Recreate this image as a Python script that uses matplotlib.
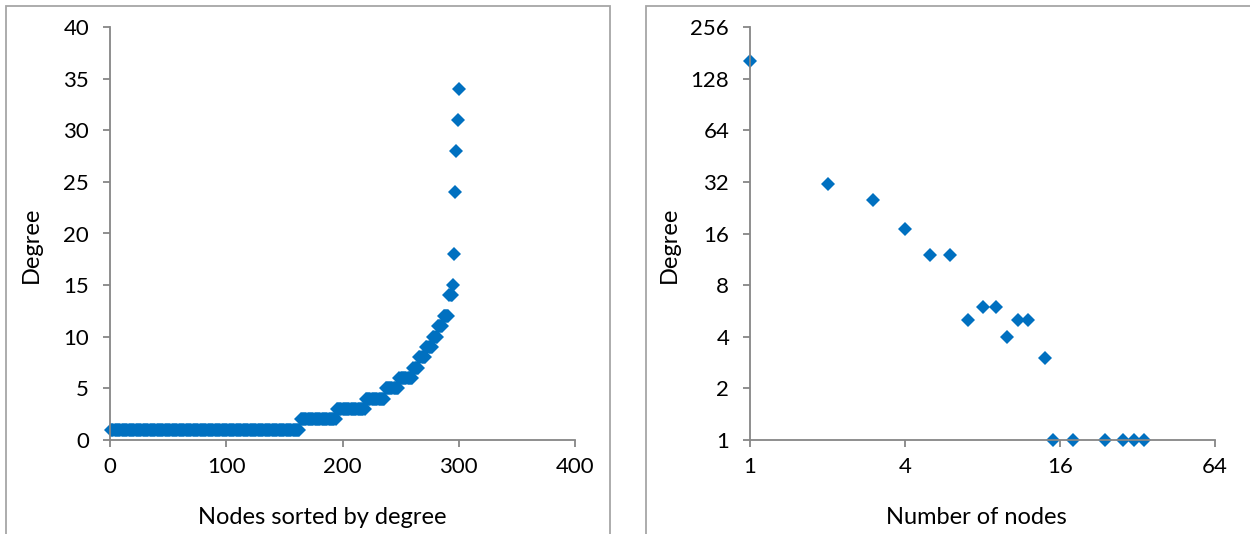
import numpy as np
import matplotlib.pyplot as plt
from matplotlib.patches import Rectangle
from matplotlib.ticker import FixedLocator, NullLocator, FuncFormatter

plt.rcParams['font.family'] = ['Lato', 'DejaVu Sans']

# degree distribution: degree value -> number of nodes with that degree
degree = [1, 2, 3, 4, 5, 6, 7, 8, 9, 10, 11, 12, 14, 15, 18, 24, 28, 31, 34]
node_count = [163, 31, 25, 17, 12, 12, 5, 6, 6, 4, 5, 5, 3, 1, 1, 1, 1, 1, 1]

left_xticks = [0, 100, 200, 300, 400]
left_yticks = [0, 5, 10, 15, 20, 25, 30, 35, 40]
right_xticks = [1, 4, 16, 64]
right_yticks = [1, 2, 4, 8, 16, 32, 64, 128, 256]

# every node's degree, in ascending order
sorted_degree = np.repeat(degree, node_count)
node_rank = np.arange(1, len(sorted_degree) + 1)

blue = '#0070C0'
axis_grey = '#868686'
tick_fs = 16
label_fs = 17

fig = plt.figure(figsize=(12.5, 5.34), dpi=100)
ax1 = fig.add_axes([110 / 1250, 1 - 440 / 534, 465 / 1250, 413 / 534])
ax2 = fig.add_axes([750 / 1250, 1 - 440 / 534, 465 / 1250, 413 / 534])

ax1.plot(node_rank, sorted_degree, linestyle='none', marker='D',
         markersize=7.5, color=blue, markeredgewidth=0, clip_on=False)
ax1.set_xlim(0, 400)
ax1.set_ylim(0, 40)
ax1.set_xticks(left_xticks)
ax1.set_yticks(left_yticks)
ax1.set_xlabel('Nodes sorted by degree', fontsize=label_fs)
ax1.set_ylabel('Degree', fontsize=label_fs)
ax1.xaxis.set_label_coords(0.456, -0.163)
ax1.yaxis.set_label_coords(-0.147, 0.472)

ax2.plot(degree, node_count, linestyle='none', marker='D',
         markersize=7.5, color=blue, markeredgewidth=0, clip_on=False)
ax2.set_xscale('log', base=2)
ax2.set_yscale('log', base=2)
ax2.set_xlim(1, 64)
ax2.set_ylim(1, 256)
ax2.xaxis.set_major_locator(FixedLocator(right_xticks))
ax2.yaxis.set_major_locator(FixedLocator(right_yticks))
ax2.xaxis.set_minor_locator(NullLocator())
ax2.yaxis.set_minor_locator(NullLocator())
intfmt = FuncFormatter(lambda v, p: f'{v:g}')
ax2.xaxis.set_major_formatter(intfmt)
ax2.yaxis.set_major_formatter(intfmt)
ax2.set_xlabel('Number of nodes', fontsize=label_fs)
ax2.set_ylabel('Degree', fontsize=label_fs)
ax2.xaxis.set_label_coords(0.486, -0.163)
ax2.yaxis.set_label_coords(-0.15, 0.472)

for ax in (ax1, ax2):
    ax.spines['top'].set_visible(False)
    ax.spines['right'].set_visible(False)
    for s in ('left', 'bottom'):
        ax.spines[s].set_color(axis_grey)
        ax.spines[s].set_linewidth(1.3)
    ax.tick_params(axis='both', which='major', length=5, width=1.3,
                   color=axis_grey, labelsize=tick_fs, direction='out')
    ax.tick_params(axis='y', pad=10)
    ax.tick_params(axis='x', pad=7)
    ax.set_zorder(1)

# chart area borders
for x0, w in ((6, 604), (646, 620)):
    fig.patches.append(Rectangle((x0 / 1250, -0.05), w / 1250, 1.05 - 6 / 534,
                                 transform=fig.transFigure, fill=False,
                                 edgecolor='#a6a6a6', linewidth=1.3))

fig.savefig('out.png', dpi=100)
